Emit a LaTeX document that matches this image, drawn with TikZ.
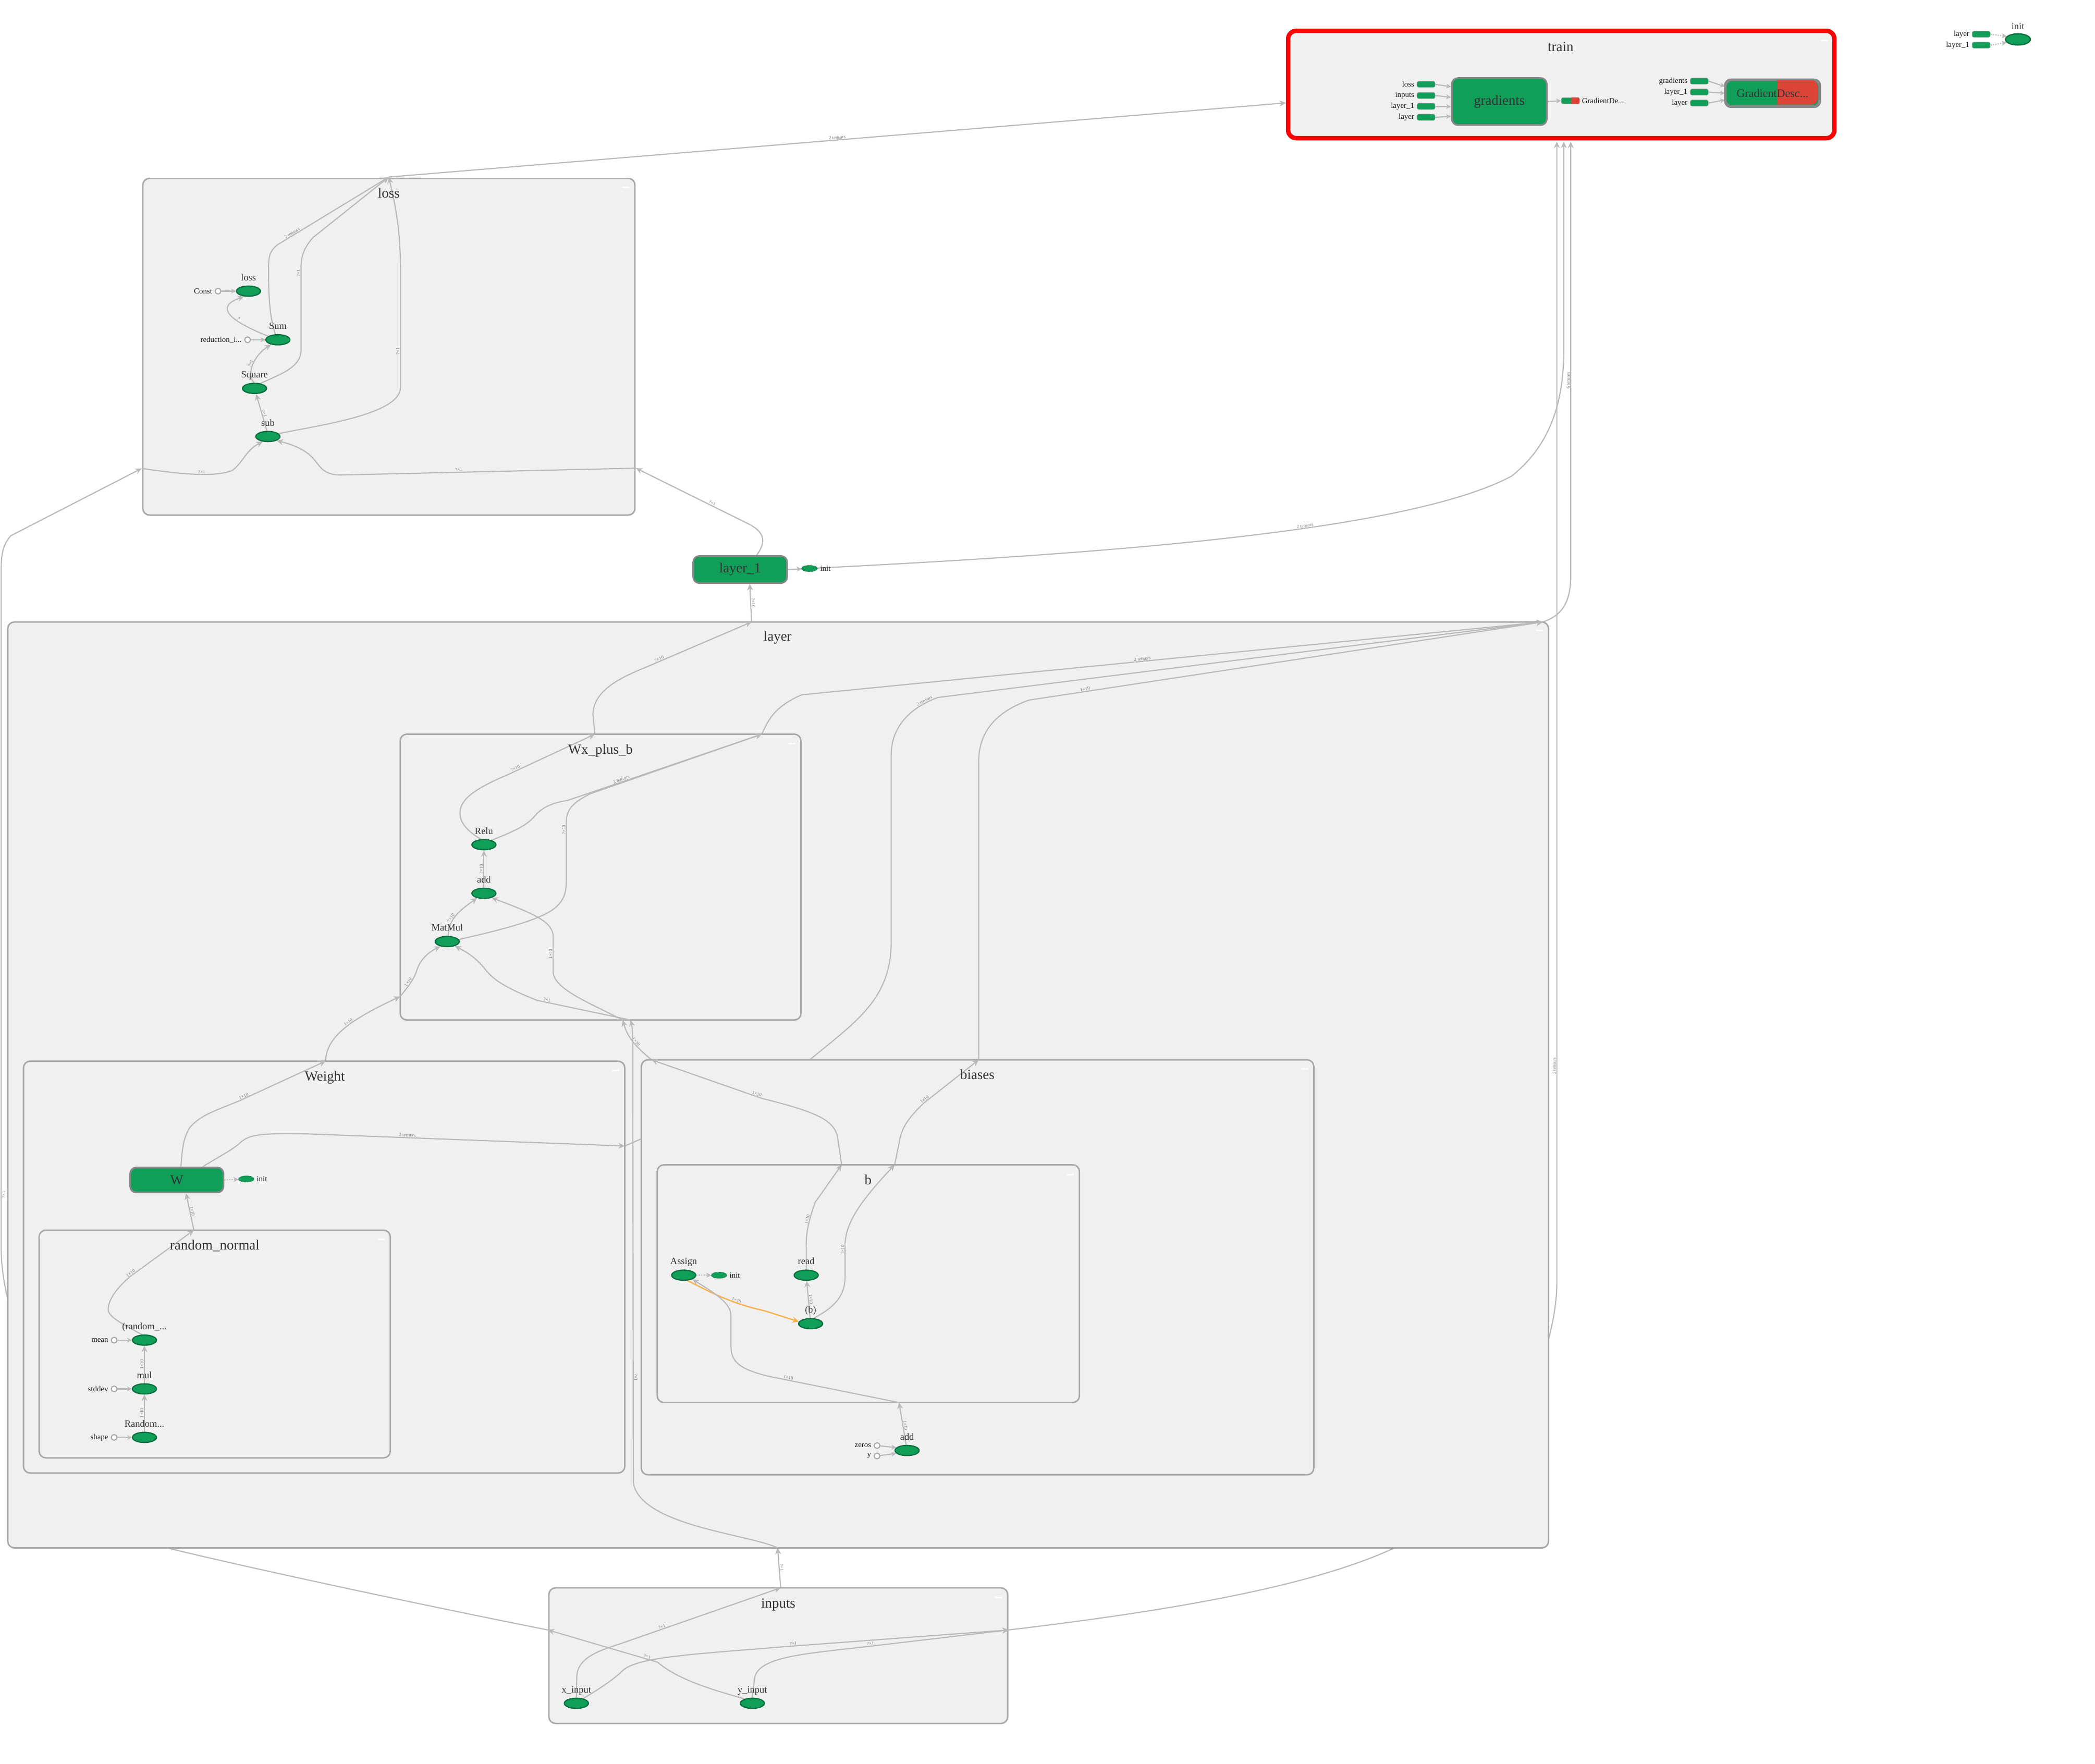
\documentclass[tikz,border=0pt]{standalone}
\usepackage{fontspec}
\setmainfont{Liberation Serif}
\usetikzlibrary{arrows.meta,shapes.geometric}
\definecolor{tbgreen}{HTML}{109E59}
\definecolor{tbgreenD}{HTML}{0B6E3D}
\definecolor{boxfill}{HTML}{F0F0F0}
\definecolor{boxline}{HTML}{A8A8A8}
\definecolor{edgec}{HTML}{B9B9B9}
\definecolor{tbred}{HTML}{DB4437}
\definecolor{txt}{HTML}{333333}
\definecolor{reforange}{HTML}{F9B04A}
\definecolor{metaline}{HTML}{878787}
\definecolor{labc}{HTML}{7A7A7A}
\pgfdeclarelayer{e0}
\pgfdeclarelayer{b1}
\pgfdeclarelayer{e1}
\pgfdeclarelayer{b2}
\pgfdeclarelayer{e2}
\pgfdeclarelayer{b3}
\pgfdeclarelayer{e3}
\pgfsetlayers{e0,b1,e1,b2,e2,b3,e3,main}
\tikzset{
  grp/.style={draw=boxline, line width=1.1pt, fill=boxfill, rounded corners=5pt, anchor=north west, inner sep=0pt, outer sep=0pt},
  ttl/.style={text=txt, font=\fontsize{10.5}{12}\selectfont, inner sep=0pt, text height=7.3pt, text depth=2.2pt},
  op/.style={ellipse, fill=tbgreen, draw=tbgreenD, line width=0.9pt, minimum width=18pt, minimum height=7.6pt, inner sep=0pt},
  oplab/.style={text=txt, font=\fontsize{7.2}{8}\selectfont, inner sep=0.5pt, text height=5pt, text depth=1.5pt, label distance=1.5pt},
  meta/.style={rectangle, rounded corners=4.5pt, fill=tbgreen, draw=metaline, line width=1.3pt, text=txt, font=\fontsize{10.4}{12}\selectfont, inner sep=0pt, anchor=north west},
  stub/.style={rectangle, rounded corners=1.3pt, fill=tbgreen, draw=black!40, dash pattern=on 0.6pt off 0.5pt, line width=0.45pt, minimum width=13.5pt, minimum height=4.6pt, inner sep=0pt},
  cst/.style={circle, fill=white, draw=boxline, line width=0.8pt, minimum size=4.3pt, inner sep=0pt},
  anno/.style={ellipse, fill=tbgreen, draw=tbgreenD, dash pattern=on 0.6pt off 0.4pt, line width=0.45pt, minimum width=11.5pt, minimum height=4.6pt, inner sep=0pt},
  clab/.style={font=\fontsize{5.8}{6}\selectfont, text=black!90, inner sep=0.3pt, label distance=1.4pt},
  tbedge/.style={draw=edgec, line width=0.85pt, -{Stealth[length=4.8pt,width=4.4pt]}},
  tbshort/.style={draw=edgec, line width=0.85pt, -{Stealth[length=3.6pt,width=3.6pt]}},
  refedge/.style={draw=reforange, line width=0.95pt, -{Stealth[length=4.8pt,width=4.4pt]}},
  dotedge/.style={draw=edgec, line width=0.8pt, dash pattern=on 0.9pt off 0.9pt, -{Stealth[length=3.6pt,width=3.8pt]}},
  elab/.style={font=\fontsize{3.5}{3.5}\selectfont, text=labc, inner sep=0.3pt, sloped, above},
}
\begin{document}
\begin{tikzpicture}[x=1pt,y=-1pt]
\useasboundingbox (0,0) rectangle (1568,1320);

% ---------- boundary coordinates ----------
\coordinate (lossT) at (291,132.5);
\coordinate (lossL) at (106,350.6);
\coordinate (lossR) at (476,350.4);
\coordinate (trainL) at (962.5,77);
\coordinate (trainB1) at (1165.2,106);
\coordinate (trainB2) at (1170.4,106);
\coordinate (trainB3) at (1175.6,106);
\coordinate (layerT) at (562.5,465.5);
\coordinate (layerTR) at (1154.8,465.5);
\coordinate (layerB) at (582,1158.5);
\coordinate (inT) at (584.3,1188.4);
\coordinate (inL) at (410,1219.9);
\coordinate (inR) at (755,1219.9);
\coordinate (wxT) at (445.2,549.5);
\coordinate (wxTR) at (570.2,549.5);
\coordinate (wxB1) at (466.1,763.4);
\coordinate (wxB2) at (471.9,763.4);
\coordinate (wxL) at (299.5,745.8);
\coordinate (wtT) at (243.7,794.2);
\coordinate (wtR) at (467.6,857.7);
\coordinate (biTL) at (487.6,793.2);
\coordinate (biT) at (732.5,793.2);
\coordinate (bT1) at (629.9,871.8);
\coordinate (bT2) at (669.6,871.8);
\coordinate (bB) at (672.9,1049.7);
\coordinate (rnT) at (145.1,920.7);

% ---------- group boxes ----------
\begin{pgfonlayer}{e0}
\fill[white] (0,0) rectangle (1568,1320);
\end{pgfonlayer}
\begin{pgfonlayer}{b1}
\node[grp, draw=red, line width=3.3pt, rounded corners=6pt, minimum width=408.8pt, minimum height=80.3pt] (trainbox) at (964.1,23.1) {};
\node[grp, minimum width=368.3pt, minimum height=252pt] (lossbox) at (106.9,133.5) {};
\node[grp, minimum width=1153.2pt, minimum height=693pt] (layerbox) at (5.8,465.5) {};
\node[grp, minimum width=343.4pt, minimum height=101.5pt] (inputsbox) at (410.8,1188.4) {};
\end{pgfonlayer}
\begin{pgfonlayer}{b2}
\node[grp, minimum width=300pt, minimum height=213.9pt] (wxbox) at (299.5,549.5) {};
\node[grp, minimum width=450pt, minimum height=308.3pt] (weightbox) at (17.6,794.2) {};
\node[grp, minimum width=503.3pt, minimum height=310.6pt] (biasesbox) at (480,793.2) {};
\end{pgfonlayer}
\begin{pgfonlayer}{b3}
\node[grp, minimum width=262.8pt, minimum height=170.4pt] (rnbox) at (29.3,920.7) {};
\node[grp, minimum width=316pt, minimum height=177.9pt] (bbox) at (491.9,871.8) {};
\end{pgfonlayer}

% collapse marks
\foreach \mx/\my in {1365.5/30.3, 468.4/140.3, 1152.2/472, 592.7/556.7, 461/801.2, 285.5/927.7, 976.7/800, 801.3/879.3, 747.4/1195.6}
  \fill[white] (\mx-2.5,\my-0.6) rectangle (\mx+2.5,\my+0.6);

% ---------- titles ----------
\node[ttl] (trainT) at (1168,35.8) {train};
\node[ttl] (lossTt) at (291,145.6) {loss};
\node[ttl] (layerTt) at (582,477.3) {layer};
\node[ttl] (inputsTt) at (582.5,1201) {inputs};
\node[ttl] (wxTt) at (449.4,561.8) {Wx\_plus\_b};
\node[ttl] (weightTt) at (243.1,806.5) {Weight};
\node[ttl] (biasesTt) at (731.5,805.4) {biases};
\node[ttl] (bTt) at (649.7,884) {b};
\node[ttl] (rnTt) at (160.7,933) {random\_normal};

% ---------- meta nodes ----------
\node[meta, minimum width=70.2pt, minimum height=20.2pt] (layer1) at (518.2,415.5) {layer\_1};
\node[meta, minimum width=71pt, minimum height=35.1pt] (grad) at (1086,57.8) {gradients};
\node[meta, minimum width=69.8pt, minimum height=18.6pt] (w) at (96.8,873.2) {W};
\begin{pgfonlayer}{e3}
\node[meta, minimum width=70pt, minimum height=19.5pt] (gd) at (1291,59.4) {};
\begin{scope}
\clip (1330,50) rectangle (1370,90);
\fill[tbred, rounded corners=4.5pt] (1291.6,60) rectangle (1360.4,78.3);
\end{scope}
\draw[metaline, line width=1.3pt, rounded corners=4.5pt] (gd.north west) rectangle (gd.south east);
\node[stub] (gds) at (1175.3,75.4) {};
\begin{scope}
\clip (1176,70) rectangle (1190,80);
\fill[tbred, rounded corners=1.3pt] (gds.north west) rectangle (gds.south east);
\end{scope}
\end{pgfonlayer}
\node[text=txt, font=\fontsize{8.6}{10}\selectfont, inner sep=0pt] (gdtext) at (gd.center) {GradientDesc...};
\node[clab, anchor=west] (gdslab) at (1183.5,75.4) {GradientDe...};

% ---------- train stubs ----------
\node[stub, label={[clab]left:loss}] (ts1) at (1067.3,63.1) {};
\node[stub, label={[clab]left:inputs}] (ts2) at (1067.3,71.5) {};
\node[stub, label={[clab]left:layer\_1}] (ts3) at (1067.3,79.6) {};
\node[stub, label={[clab]left:layer}] (ts4) at (1067.3,87.8) {};
\node[stub, label={[clab]left:gradients}] (rs1) at (1271.8,60.7) {};
\node[stub, label={[clab]left:layer\_1}] (rs2) at (1271.8,68.9) {};
\node[stub, label={[clab]left:layer}] (rs3) at (1271.8,77.1) {};

% ---------- top-right init ----------
\node[stub, label={[clab]left:layer}] (trs1) at (1482.8,25.6) {};
\node[stub, label={[clab]left:layer\_1}] (trs2) at (1482.8,33.8) {};
\node[op, minimum width=18.6pt, minimum height=8.4pt, label={[oplab, label distance=0.8pt]above:init}] (initop) at (1510.3,29.5) {};

% ---------- loss ops ----------
\node[op, label={[oplab]above:loss}] (lossop) at (186,217.9) {};
\node[op, label={[oplab]above:Sum}] (sum) at (208,254.3) {};
\node[op, label={[oplab]above:Square}] (square) at (190.5,290.7) {};
\node[op, label={[oplab]above:sub}] (sub) at (200.5,326.7) {};
\node[cst, label={[clab]left:Const}] (const) at (163.2,217.9) {};
\node[cst, label={[clab]left:reduction\_i...}] (reduc) at (185.3,254.3) {};

% ---------- Wx_plus_b ops ----------
\node[op, label={[oplab]above:Relu}] (relu) at (362.2,632.2) {};
\node[op, label={[oplab]above:add}] (addwx) at (362.2,668.6) {};
\node[op, label={[oplab]above:MatMul}] (matmul) at (334.7,704.7) {};

% ---------- random_normal ops ----------
\node[op, label={[oplab]above:(random\_...}] (rnop) at (108.1,1003) {};
\node[op, label={[oplab]above:mul}] (mul) at (108.1,1039.5) {};
\node[op, label={[oplab]above:Random...}] (rnd) at (108.1,1075.8) {};
\node[cst, label={[clab]left:mean}] (mean) at (85.4,1003) {};
\node[cst, label={[clab]left:stddev}] (stddev) at (85.4,1039.5) {};
\node[cst, label={[clab]left:shape}] (shapec) at (85.4,1075.8) {};

% ---------- b ops ----------
\node[op, label={[oplab]above:Assign}] (assign) at (511.7,954.4) {};
\node[op, label={[oplab]above:read}] (read) at (603.4,954.4) {};
\node[op, label={[oplab]above:(b)}] (var) at (606.7,990.7) {};
\node[anno, label={[clab]right:init}] (ainit) at (538.2,954.4) {};

% ---------- biases ops ----------
\node[op, label={[oplab]above:add}] (addbi) at (678.9,1085.6) {};
\node[cst, label={[clab]left:zeros}] (zeros) at (656.4,1081.9) {};
\node[cst, label={[clab]left:y}] (ycst) at (656.4,1089.7) {};

% ---------- inputs ops ----------
\node[op, label={[oplab]above:x\_input}] (xin) at (431.4,1274.8) {};
\node[op, label={[oplab]above:y\_input}] (yin) at (563.1,1274.8) {};

% ---------- annotations ----------
\node[anno, minimum width=11.8pt, label={[clab]right:init}] (l1init) at (605.9,425.5) {};
\node[anno, label={[clab]right:init}] (winit) at (184.3,882.4) {};

% ========== root edges ==========
\begin{pgfonlayer}{e0}
\draw[tbedge] (lossT) -- (trainL) node[elab,pos=0.5]{2 tensors};
\draw[tbedge] ([xshift=12.4pt]layer1.north) .. controls (574,405) and (572,398) .. (560,392) -- (lossR) node[elab,pos=0.33]{?×1};
\draw[tbedge] (layer1.east) .. controls (800,416) and (1050,400) .. (1131.4,356.3) node[elab,pos=0.62]{2 tensors} .. controls (1158,335) and (1170.4,305) .. (1170.4,262) -- (trainB2);
\draw[tbedge] (layerTR) .. controls (1168,461) and (1175.6,452) .. (1175.6,431) -- (trainB3) node[elab,pos=0.45]{6 tensors};
\draw[tbedge] (inR) .. controls (880,1205) and (1000,1185) .. (1060,1150) .. controls (1130,1100) and (1165.2,1010) .. (1165.2,960) -- (trainB1) node[elab,pos=0.19]{2 tensors};
\draw[tbedge] (inT) -- (layerB) node[elab,pos=0.5]{?×1};
\draw[tbedge] (inL) .. controls (300,1198) and (180,1172) .. (123,1158) .. controls (60,1120) and (0.9,1000) .. (0.9,935) -- (0.9,425) node[elab,below,pos=0.08]{?×1} .. controls (0.9,413) and (3,407) .. (8,401) -- (lossL);
\draw[tbedge] (layerT) -- ([xshift=7.2pt]layer1.south) node[elab,pos=0.5]{?×10};
\draw[dotedge] (layer1.east) -- (l1init);
\draw[dotedge] (trs1.east) -- (initop.165);
\draw[dotedge] (trs2.east) -- (initop.195);
\end{pgfonlayer}

% ========== loss / inputs / train / layer scene edges ==========
\begin{pgfonlayer}{e1}
% loss
\draw[tbedge] (sum.115) .. controls (201,235) and (201,215) .. (201,200) .. controls (201,190) and (203,187) .. (208,183) -- (lossT) node[elab,pos=0.14]{2 tensors};
\draw[tbedge] (square.40) .. controls (210,280) and (225.3,275) .. (225.3,262) -- (225.3,200) node[elab,pos=0.93]{?×1} .. controls (225.3,190) and (229,184) .. (234,178) -- (lossT);
\draw[tbedge] (sub.15) .. controls (240,318) and (299.7,310) .. (299.7,290) -- (299.7,200) node[elab,pos=0.3]{?×1} .. controls (299.7,170) and (295,150) .. (lossT);
\draw[tbedge] (sub.100) -- (square) node[elab,pos=0.45]{?×1};
\draw[tbedge] (square.95) .. controls (184,280) and (190,266) .. (sum.215) node[elab,pos=0.5]{?×1};
\draw[tbedge] (sum.160) .. controls (172,240) and (160,230) .. (lossop.230) node[elab,pos=0.35]{?};
\draw[tbshort] (const) -- (lossop);
\draw[tbshort] (reduc) -- (sum);
\draw[tbedge] (lossL) .. controls (130,354) and (160,358) .. (174,352) node[elab,pos=0.6]{?×1} .. controls (182,346) and (184,337) .. (sub.225);
\draw[tbedge] (lossR) -- (255,355.5) node[elab,pos=0.6]{?×1} .. controls (243,355.5) and (240,350) .. (236,345) .. controls (230,337) and (220,333) .. (sub.335);
% inputs
\draw[tbedge] (xin.north) -- (431.7,1255) .. controls (432,1240) and (450,1235) .. (465,1230) -- (inT) node[elab,pos=0.26]{?×1};
\draw[tbedge] (xin.35) .. controls (452,1262) and (460,1256) .. (465.3,1251.1) .. controls (475,1240) and (520,1238) .. (588.9,1232.3) -- (inR) node[elab,pos=0.03]{?×1};
\draw[tbedge] (yin.north) -- (564.5,1258) .. controls (565,1240) and (600,1238) .. (649.6,1232.3) -- (inR) node[elab,pos=0.02]{?×1};
\draw[tbedge] (yin.150) .. controls (515,1260) and (502,1252) .. (492,1244) -- (inL) node[elab,pos=0.1]{?×1};
% train
\draw[tbshort] (ts1.east) -- (grad.163);
\draw[tbshort] (ts2.east) -- (grad.175);
\draw[tbshort] (ts3.east) -- (grad.186);
\draw[tbshort] (ts4.east) -- (grad.197);
\draw[tbshort] (grad.east) -- (gds.west);
\draw[tbshort] (rs1.east) -- (gd.172);
\draw[tbshort] (rs2.east) -- (gd.180);
\draw[tbshort] (rs3.east) -- (gd.188);
% layer scene
\draw[tbedge] (wxT) -- (443.8,535) .. controls (443.8,518) and (462,508) .. (482,500) -- (layerT) node[elab,pos=0.15]{?×10};
\draw[tbedge] (wxTR) .. controls (576,536) and (582,528) .. (600,520) -- (layerTR) node[elab,pos=0.46]{2 tensors};
\draw[tbedge] (wtR) -- (490,848) -- (606.7,792.7) .. controls (640,765) and (667,748) .. (667,705) -- (667,565) .. controls (667,545) and (680,530) .. (702,522) node[elab,pos=0.85]{2 tensors} -- (layerTR);
\draw[tbedge] (biT) -- (732.5,570) .. controls (732.5,548) and (745,533) .. (770,524) -- (layerTR) node[elab,pos=0.11]{1×10};
\draw[tbedge] (wtT) .. controls (244,775) and (265,762) .. (wxL) node[elab,pos=0.55]{1×10};
\draw[tbedge] (biTL) .. controls (478,785) and (470,778) .. (wxB1) node[elab,pos=0.5]{1×10};
\draw[tbedge] (layerB) .. controls (560,1148) and (480,1142) .. (474,1110) -- (473.6,780) node[elab,pos=0.24]{?×1} .. controls (473.6,772) and (473,768) .. (wxB2);
\end{pgfonlayer}

% ========== Wx_plus_b / Weight / biases scene edges ==========
\begin{pgfonlayer}{e2}
\draw[tbedge] (relu.120) .. controls (350,622) and (344,616) .. (344.3,608) .. controls (344.5,598) and (356,590) .. (380,579.8) -- (wxT) node[elab,pos=0.1]{?×10};
\draw[tbedge] (relu.30) .. controls (385,622) and (394,618) .. (400,611) .. controls (405,605) and (412,601) .. (425,599) -- (wxTR) node[elab,pos=0.28]{2 tensors};
\draw[tbedge] (matmul.10) .. controls (370,697) and (405,689) .. (416,679) .. controls (423.9,672) and (423.9,665) .. (423.9,655) -- (423.9,615) node[elab,pos=0.85]{?×10} .. controls (423.9,605) and (430,600) .. (442,594) -- (wxTR);
\draw[tbedge] (addwx) -- (relu) node[elab,pos=0.5]{?×10};
\draw[tbedge] (matmul.80) .. controls (336,690) and (340,684) .. (addwx.215) node[elab,pos=0.45]{?×10};
\draw[tbedge] (wxB2) -- (402,748.7) node[elab,pos=0.9]{?×1} .. controls (375,738) and (368,732) .. (362,724) .. controls (355,716) and (350,713) .. (matmul.330);
\draw[tbedge] (wxB1) .. controls (440,750) and (414,740) .. (414,727) -- (414,701) node[elab,pos=0.5]{1×10} .. controls (414,690) and (400,684) .. (addwx.330);
\draw[tbedge] (wxL) .. controls (305,739) and (310,733) .. (312,726) node[elab,pos=0.5]{1×10} .. controls (315,717) and (322,712) .. (matmul.215);
% Weight
\draw[tbedge] ([xshift=3pt]w.north) .. controls (136.5,860) and (137,852) .. (142,844) .. controls (150,834) and (165,830) .. (180,823.5) -- (wtT) node[elab,pos=0.05]{1×10};
\draw[tbedge] ([xshift=19.4pt]w.north) .. controls (165,865) and (175,860) .. (180,855) .. controls (187,849) and (195,848) .. (231.7,848.7) -- (wtR) node[elab,pos=0.31]{2 tensors};
\draw[tbedge] (rnT) -- ([xshift=6.9pt]w.south) node[elab,pos=0.5]{1×10};
\draw[dotedge] (w.east) -- (winit);
% biases
\draw[tbedge] (bT1) -- (627,852) .. controls (625,838) and (610,832) .. (570,822) -- (biTL) node[elab,pos=0.05]{1×10};
\draw[tbedge] (bT2) -- (673,855) .. controls (675,842) and (682,835) .. (691,825.9) -- (biT) node[elab,pos=0.05]{1×10};
\draw[tbedge] (addbi) -- (bB) node[elab,pos=0.45]{1×10};
\draw[tbshort] (zeros) -- (addbi.165);
\draw[tbshort] (ycst) -- (addbi.195);
\end{pgfonlayer}

% ========== random_normal / b scene edges ==========
\begin{pgfonlayer}{e3}
\draw[tbedge] (rnop.115) .. controls (90,990) and (80,985) .. (81,979) .. controls (82,970) and (90,962) .. (97.4,955.4) -- (rnT) node[elab,pos=0.03]{1×10};
\draw[tbedge] (mul) -- (rnop) node[elab,pos=0.5]{1×10};
\draw[tbedge] (rnd) -- (mul) node[elab,pos=0.5]{1×10};
\draw[tbshort] (mean) -- (rnop);
\draw[tbshort] (stddev) -- (mul);
\draw[tbshort] (shapec) -- (rnd);
\draw[tbedge] (read.north) -- (603.4,932) .. controls (603.4,920) and (606,912) .. (610,900) node[elab,pos=0.6]{1×10} -- (bT1);
\draw[tbedge] (var.60) .. controls (625,978) and (632.5,970) .. (632.5,955) -- (632.5,932) node[elab,pos=0.85]{1×10} .. controls (632.5,915) and (645,898) .. (bT2);
\draw[tbedge] (var) -- (read) node[elab,pos=0.5]{1×10};
\draw[refedge] (assign.305) .. controls (530,966) and (545,975) .. (572,981) node[elab,pos=0.7]{1×10} -- (var.170);
\draw[tbedge] (bB) -- (575,1030) node[elab,pos=0.85]{1×10} .. controls (555,1025) and (547.1,1020) .. (547.1,1008) -- (547.1,985) .. controls (547.1,975) and (535,968) .. (assign.335);
\draw[dotedge] (assign) -- (ainit);
\end{pgfonlayer}
\end{tikzpicture}
\end{document}
